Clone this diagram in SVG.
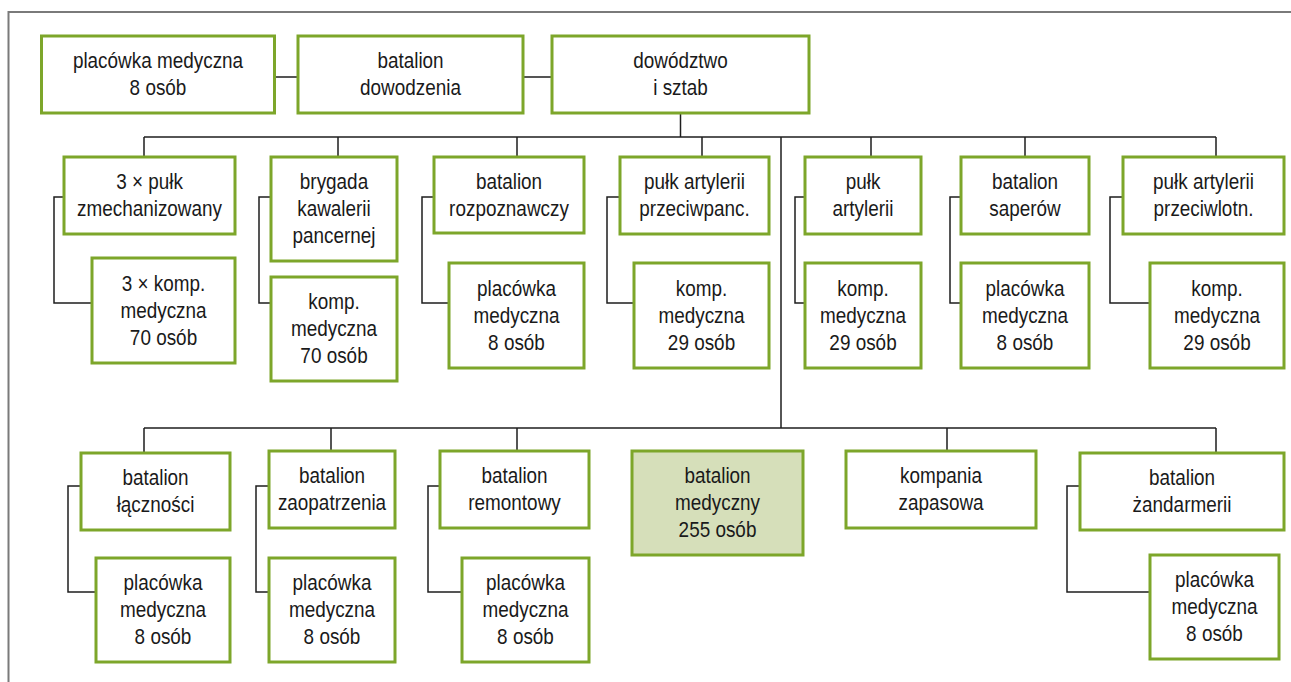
<svg xmlns="http://www.w3.org/2000/svg" width="1291" height="682" viewBox="0 0 1291 682">
  <style>
    .box { fill: #ffffff; stroke: #7da62a; stroke-width: 3; }
    .hl { fill: #d6dfba; }
    .lbl { font-family: "Liberation Sans", Arial, sans-serif; font-size: 22px; fill: #1a1a1a; text-anchor: middle; }
    .wire { fill: none; stroke: #1e1e1e; stroke-width: 1.5; }
    .frame { fill: none; stroke: #7a7a7a; stroke-width: 2; }
  </style>

  <rect x="0" y="0" width="1291" height="682" fill="#ffffff"/>
  <path class="frame" d="M8.5,682 V12 H1291"/>

  <!-- connectors -->
  <g id="connectors">
    <!-- top row links -->
    <path class="wire" d="M274.5,77 H298 M523,77 H552"/>
    <!-- staff to first bus -->
    <path class="wire" d="M680.5,113 V137"/>
    <path class="wire" d="M144,137 H1216"/>
    <path class="wire" d="M144,137 V157 M338,137 V157 M517,137 V157 M702,137 V157 M871,137 V157 M1025,137 V157 M1216,137 V157"/>
    <!-- trunk to second bus -->
    <path class="wire" d="M781,137 V428"/>
    <path class="wire" d="M144,428 H1216"/>
    <path class="wire" d="M144,428 V453 M331,428 V451 M517,428 V451 M947,428 V451 M1216,428 V453"/>
    <!-- unit to medical element (row 2) -->
    <path class="wire" d="M64,197 H54 V303 H92"/>
    <path class="wire" d="M271,197 H259 V303 H271"/>
    <path class="wire" d="M434,197 H422 V303 H449"/>
    <path class="wire" d="M620,197 H607 V303 H634"/>
    <path class="wire" d="M805,197 H795 V303 H805"/>
    <path class="wire" d="M961,197 H950 V303 H961"/>
    <path class="wire" d="M1123,197 H1110 V303 H1150"/>
    <!-- unit to medical element (row 3) -->
    <path class="wire" d="M81,486 H68 V592 H96"/>
    <path class="wire" d="M269,486 H256 V592 H269"/>
    <path class="wire" d="M440,486 H428 V592 H462"/>
    <path class="wire" d="M1080,486 H1067 V592 H1150"/>
  </g>

  <!-- top row -->
  <g id="n-placowka-dow">
    <rect class="box" x="41.5" y="36" width="233" height="77"/>
    <text class="lbl" transform="translate(158,68) scale(0.86,1)">placówka medyczna</text>
    <text class="lbl" transform="translate(158,95) scale(0.86,1)">8 osób</text>
  </g>
  <g id="n-batalion-dowodzenia">
    <rect class="box" x="298" y="36" width="225" height="77"/>
    <text class="lbl" transform="translate(410.5,68) scale(0.86,1)">batalion</text>
    <text class="lbl" transform="translate(410.5,95) scale(0.86,1)">dowodzenia</text>
  </g>
  <g id="n-dowodztwo">
    <rect class="box" x="552" y="36" width="257" height="77"/>
    <text class="lbl" transform="translate(680.5,68) scale(0.86,1)">dowództwo</text>
    <text class="lbl" transform="translate(680.5,95) scale(0.86,1)">i sztab</text>
  </g>

  <!-- second row: combat units -->
  <g id="n-pulk-zmech">
    <rect class="box" x="64" y="157" width="171" height="77"/>
    <text class="lbl" transform="translate(149.5,189) scale(0.86,1)">3 × pułk</text>
    <text class="lbl" transform="translate(149.5,216) scale(0.86,1)">zmechanizowany</text>
  </g>
  <g id="n-pulk-zmech-med">
    <rect class="box" x="92" y="258" width="143" height="105"/>
    <text class="lbl" transform="translate(163.5,290.5) scale(0.86,1)">3 × komp.</text>
    <text class="lbl" transform="translate(163.5,317.5) scale(0.86,1)">medyczna</text>
    <text class="lbl" transform="translate(163.5,344.5) scale(0.86,1)">70 osób</text>
  </g>

  <g id="n-brygada">
    <rect class="box" x="271" y="157" width="126" height="104"/>
    <text class="lbl" transform="translate(334,189) scale(0.86,1)">brygada</text>
    <text class="lbl" transform="translate(334,216) scale(0.86,1)">kawalerii</text>
    <text class="lbl" transform="translate(334,243) scale(0.86,1)">pancernej</text>
  </g>
  <g id="n-brygada-med">
    <rect class="box" x="271" y="277" width="126" height="104"/>
    <text class="lbl" transform="translate(334,309) scale(0.86,1)">komp.</text>
    <text class="lbl" transform="translate(334,336) scale(0.86,1)">medyczna</text>
    <text class="lbl" transform="translate(334,363) scale(0.86,1)">70 osób</text>
  </g>

  <g id="n-rozpoznawczy">
    <rect class="box" x="434" y="157" width="150" height="76"/>
    <text class="lbl" transform="translate(509,189) scale(0.86,1)">batalion</text>
    <text class="lbl" transform="translate(509,216) scale(0.86,1)">rozpoznawczy</text>
  </g>
  <g id="n-rozpoznawczy-med">
    <rect class="box" x="449" y="263" width="135" height="105"/>
    <text class="lbl" transform="translate(516.5,295.5) scale(0.86,1)">placówka</text>
    <text class="lbl" transform="translate(516.5,322.5) scale(0.86,1)">medyczna</text>
    <text class="lbl" transform="translate(516.5,349.5) scale(0.86,1)">8 osób</text>
  </g>

  <g id="n-przeciwpanc">
    <rect class="box" x="620" y="157" width="149" height="77"/>
    <text class="lbl" transform="translate(694.5,189) scale(0.86,1)">pułk artylerii</text>
    <text class="lbl" transform="translate(694.5,216) scale(0.86,1)">przeciwpanc.</text>
  </g>
  <g id="n-przeciwpanc-med">
    <rect class="box" x="634" y="263" width="135" height="105"/>
    <text class="lbl" transform="translate(701.5,295.5) scale(0.86,1)">komp.</text>
    <text class="lbl" transform="translate(701.5,322.5) scale(0.86,1)">medyczna</text>
    <text class="lbl" transform="translate(701.5,349.5) scale(0.86,1)">29 osób</text>
  </g>

  <g id="n-artylerii">
    <rect class="box" x="805" y="157" width="116" height="77"/>
    <text class="lbl" transform="translate(863,189) scale(0.86,1)">pułk</text>
    <text class="lbl" transform="translate(863,216) scale(0.86,1)">artylerii</text>
  </g>
  <g id="n-artylerii-med">
    <rect class="box" x="805" y="263" width="116" height="105"/>
    <text class="lbl" transform="translate(863,295.5) scale(0.86,1)">komp.</text>
    <text class="lbl" transform="translate(863,322.5) scale(0.86,1)">medyczna</text>
    <text class="lbl" transform="translate(863,349.5) scale(0.86,1)">29 osób</text>
  </g>

  <g id="n-saperow">
    <rect class="box" x="961" y="157" width="128" height="77"/>
    <text class="lbl" transform="translate(1025,189) scale(0.86,1)">batalion</text>
    <text class="lbl" transform="translate(1025,216) scale(0.86,1)">saperów</text>
  </g>
  <g id="n-saperow-med">
    <rect class="box" x="961" y="263" width="128" height="105"/>
    <text class="lbl" transform="translate(1025,295.5) scale(0.86,1)">placówka</text>
    <text class="lbl" transform="translate(1025,322.5) scale(0.86,1)">medyczna</text>
    <text class="lbl" transform="translate(1025,349.5) scale(0.86,1)">8 osób</text>
  </g>

  <g id="n-przeciwlotn">
    <rect class="box" x="1123" y="157" width="161" height="77"/>
    <text class="lbl" transform="translate(1203.5,189) scale(0.86,1)">pułk artylerii</text>
    <text class="lbl" transform="translate(1203.5,216) scale(0.86,1)">przeciwlotn.</text>
  </g>
  <g id="n-przeciwlotn-med">
    <rect class="box" x="1150" y="263" width="134" height="105"/>
    <text class="lbl" transform="translate(1217,295.5) scale(0.86,1)">komp.</text>
    <text class="lbl" transform="translate(1217,322.5) scale(0.86,1)">medyczna</text>
    <text class="lbl" transform="translate(1217,349.5) scale(0.86,1)">29 osób</text>
  </g>

  <!-- third row: support units -->
  <g id="n-lacznosci">
    <rect class="box" x="81" y="453" width="149" height="77"/>
    <text class="lbl" transform="translate(155.5,485) scale(0.86,1)">batalion</text>
    <text class="lbl" transform="translate(155.5,512) scale(0.86,1)">łączności</text>
  </g>
  <g id="n-lacznosci-med">
    <rect class="box" x="96" y="558" width="134" height="104"/>
    <text class="lbl" transform="translate(163,590) scale(0.86,1)">placówka</text>
    <text class="lbl" transform="translate(163,617) scale(0.86,1)">medyczna</text>
    <text class="lbl" transform="translate(163,644) scale(0.86,1)">8 osób</text>
  </g>

  <g id="n-zaopatrzenia">
    <rect class="box" x="269" y="451" width="126" height="77"/>
    <text class="lbl" transform="translate(332,483) scale(0.86,1)">batalion</text>
    <text class="lbl" transform="translate(332,510) scale(0.86,1)">zaopatrzenia</text>
  </g>
  <g id="n-zaopatrzenia-med">
    <rect class="box" x="269" y="558" width="126" height="104"/>
    <text class="lbl" transform="translate(332,590) scale(0.86,1)">placówka</text>
    <text class="lbl" transform="translate(332,617) scale(0.86,1)">medyczna</text>
    <text class="lbl" transform="translate(332,644) scale(0.86,1)">8 osób</text>
  </g>

  <g id="n-remontowy">
    <rect class="box" x="440" y="451" width="149" height="77"/>
    <text class="lbl" transform="translate(514.5,483) scale(0.86,1)">batalion</text>
    <text class="lbl" transform="translate(514.5,510) scale(0.86,1)">remontowy</text>
  </g>
  <g id="n-remontowy-med">
    <rect class="box" x="462" y="558" width="127" height="104"/>
    <text class="lbl" transform="translate(525.5,590) scale(0.86,1)">placówka</text>
    <text class="lbl" transform="translate(525.5,617) scale(0.86,1)">medyczna</text>
    <text class="lbl" transform="translate(525.5,644) scale(0.86,1)">8 osób</text>
  </g>

  <g id="n-medyczny">
    <rect class="box hl" x="632" y="451" width="171" height="104"/>
    <text class="lbl" transform="translate(717.5,483) scale(0.86,1)">batalion</text>
    <text class="lbl" transform="translate(717.5,510) scale(0.86,1)">medyczny</text>
    <text class="lbl" transform="translate(717.5,537) scale(0.86,1)">255 osób</text>
  </g>

  <g id="n-zapasowa">
    <rect class="box" x="846" y="451" width="190" height="77"/>
    <text class="lbl" transform="translate(941,483) scale(0.86,1)">kompania</text>
    <text class="lbl" transform="translate(941,510) scale(0.86,1)">zapasowa</text>
  </g>

  <g id="n-zandarmerii">
    <rect class="box" x="1080" y="453" width="204" height="77"/>
    <text class="lbl" transform="translate(1182,485) scale(0.86,1)">batalion</text>
    <text class="lbl" transform="translate(1182,512) scale(0.86,1)">żandarmerii</text>
  </g>
  <g id="n-zandarmerii-med">
    <rect class="box" x="1150" y="555" width="129" height="104"/>
    <text class="lbl" transform="translate(1214.5,587) scale(0.86,1)">placówka</text>
    <text class="lbl" transform="translate(1214.5,614) scale(0.86,1)">medyczna</text>
    <text class="lbl" transform="translate(1214.5,641) scale(0.86,1)">8 osób</text>
  </g>
</svg>
